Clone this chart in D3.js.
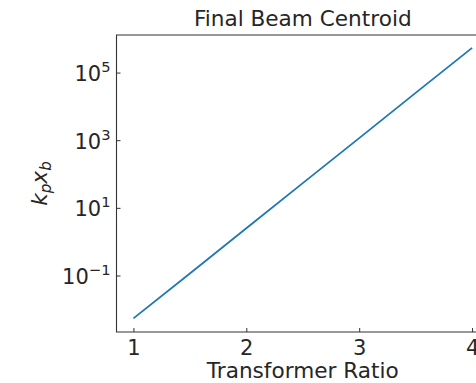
<!DOCTYPE html>
<html><head><meta charset="utf-8">
<script src="https://cdn.jsdelivr.net/npm/d3@7"></script>
<style>
body{margin:0;background:#fff;}
text{font-family:"DejaVu Sans",sans-serif;fill:#262626;}
</style></head>
<body><svg id="c" width="476" height="383"></svg>
<script>
// Data
const ratio =    [1.0,    1.5,   2.0,  2.5,  3.0,   3.5,    4.0];
const centroid = [0.0054, 0.115, 2.5,  54,   1150,  25000,  537000];
const xTicks = [1, 2, 3, 4];
const yTickExp = [-1, 1, 3, 5];
const title = "Final Beam Centroid";
const xLabel = "Transformer Ratio";

const svg = d3.select("#c");
const L = 116.5, R = 489, T = 35, B = 332;
const x = d3.scaleLinear().domain([0.85, 4.15]).range([L, R]);
const y = d3.scaleLog().domain([Math.pow(10, -2.67), Math.pow(10, 6.11)]).range([B, T]);
const fs = 21;
const fsL = 21.6;

// line
const line = d3.line().x((d,i)=>x(ratio[i])).y(d=>y(d));
svg.append("path").datum(centroid).attr("d", line)
  .attr("fill","none").attr("stroke","#1f77b4").attr("stroke-width",1.8);

// spines
svg.append("path").attr("d",`M${L},${T}H${R}V${B}H${L}Z`)
  .attr("fill","none").attr("stroke","#333").attr("stroke-width",1.1);

// x axis
const gx = svg.append("g").attr("transform",`translate(0,${B})`)
  .call(d3.axisBottom(x).tickValues(xTicks).tickSizeInner(-4).tickSizeOuter(0).tickPadding(8).tickFormat(d3.format("d")));
gx.select(".domain").remove();
gx.selectAll(".tick line").attr("stroke","#333");
gx.selectAll(".tick text").attr("font-size",fs).attr("y",null).attr("dy",null)
  .attr("transform","translate(0,22.5)").style("font-family","DejaVu Sans").attr("fill","#262626");

// y axis
const gy = svg.append("g").attr("transform",`translate(${L},0)`)
  .call(d3.axisLeft(y).tickValues(yTickExp.map(e=>Math.pow(10,e))).tickSizeInner(-4).tickSizeOuter(0).tickFormat(""));
gy.select(".domain").remove();
gy.selectAll(".tick line").attr("stroke","#333");
gy.selectAll(".tick").each(function(d){
  const e = Math.round(Math.log10(d));
  const t = d3.select(this).append("text").attr("x",-6).attr("y",8)
    .attr("text-anchor","end").attr("font-size",fs).attr("fill","#262626");
  t.append("tspan").text("10");
  t.append("tspan").attr("font-size",fs*0.7).attr("dy",-9).text(e<0?"\u2212"+(-e):String(e));
});

// title
svg.append("text").attr("x",(L+R)/2).attr("y",26).attr("text-anchor","middle")
  .attr("font-size",fsL).text(title);
// x label
svg.append("text").attr("x",(L+R)/2).attr("y",378).attr("text-anchor","middle")
  .attr("font-size",fsL).text(xLabel);
// y label
const yl = svg.append("text").attr("transform",`translate(47,${(T+B)/2}) rotate(-90)`)
  .attr("text-anchor","middle").attr("font-size",fsL).attr("font-style","italic");
yl.append("tspan").text("k");
yl.append("tspan").attr("font-size",fsL*0.7).attr("dy",4).text("p");
yl.append("tspan").attr("dy",-4).text("x");
yl.append("tspan").attr("font-size",fsL*0.7).attr("dy",4).text("b");
</script></body></html>
